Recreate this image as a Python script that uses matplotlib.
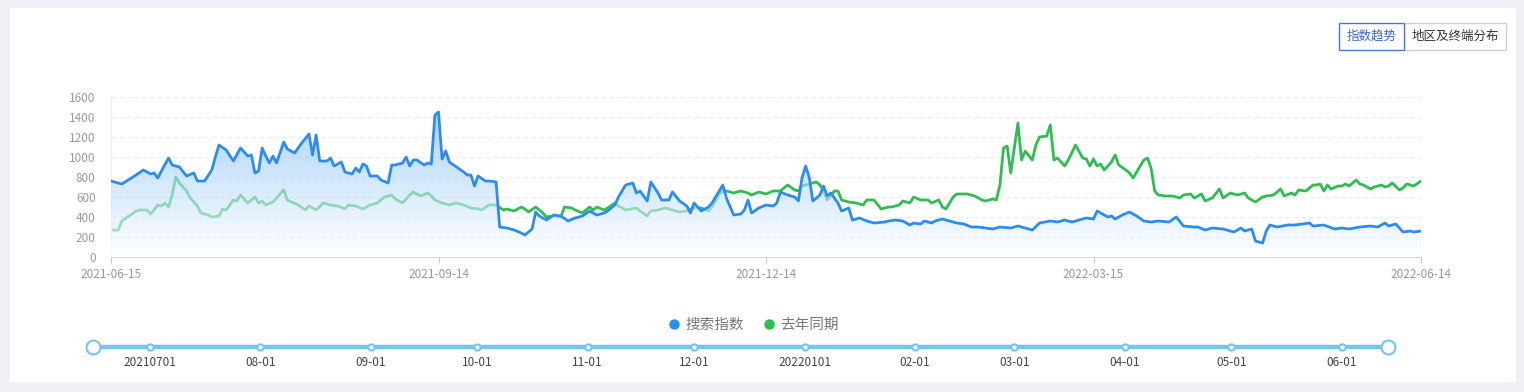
import numpy as np
import pandas as pd
import matplotlib
matplotlib.use("Agg")
import matplotlib.pyplot as plt
import matplotlib.dates as mdates
from matplotlib.patches import Rectangle, PathPatch
from matplotlib.path import Path
from matplotlib.lines import Line2D

plt.rcParams['font.family'] = ['Noto Sans CJK SC', 'DejaVu Sans']

# data (day offset from 2021-06-15, value)
start = pd.Timestamp('2021-06-15')
end = pd.Timestamp('2022-06-14')

blue_day = [0, 3, 7, 9, 11, 12, 13, 14, 16, 17, 19, 21, 23, 24, 26, 28, 29, 30, 32, 34,
            36, 38, 39, 40, 41, 42, 43, 44, 45, 46, 48, 49, 51, 53, 55, 56, 57, 58, 60, 61,
            62, 64, 65, 67, 68, 69, 70, 71, 72, 74, 75, 77, 78, 79, 81, 82, 83, 84, 85, 87,
            88, 89, 90, 91, 92, 93, 94, 96, 98, 99, 100, 101, 102, 104, 105, 107, 108, 110, 112, 114,
            115, 117, 118, 119, 121, 123, 125, 127, 129, 131, 133, 135, 137, 138, 140, 141, 143, 145, 146, 147,
            149, 150, 152, 153, 155, 156, 158, 160, 161, 162, 164, 166, 167, 169, 170, 171, 173, 175, 176, 177,
            178, 180, 182, 184, 185, 186, 188, 190, 191, 192, 193, 194, 195, 197, 198, 199, 200, 202, 203, 205,
            206, 208, 210, 212, 215, 216, 218, 220, 222, 223, 225, 226, 228, 229, 231, 233, 235, 237, 239, 241,
            243, 245, 247, 250, 252, 254, 256, 258, 261, 263, 265, 267, 269, 271, 273, 274, 275, 277, 278, 279,
            281, 283, 285, 287, 289, 291, 294, 296, 298, 301, 302, 304, 306, 309, 312, 314, 315, 317, 318, 320,
            321, 322, 324, 327, 329, 333, 334, 337, 340, 342, 344, 347, 350, 352, 354, 355, 357, 359, 361, 362,
            364]
blue_val = [760, 730, 820, 870, 830, 840, 790, 860, 990, 920, 900, 810, 840, 760, 760, 870, 1000, 1120, 1070, 960,
            1090, 1010, 1020, 840, 860, 1090, 1010, 940, 1010, 940, 1150, 1080, 1040, 1140, 1230, 1020, 1220, 960, 960, 990,
            910, 950, 850, 830, 890, 850, 930, 910, 810, 810, 770, 740, 920, 920, 940, 1000, 910, 970, 970, 920,
            940, 930, 1420, 1450, 980, 1060, 950, 900, 850, 820, 820, 710, 810, 760, 760, 750, 300, 290, 270, 240,
            220, 280, 450, 410, 370, 420, 410, 360, 390, 410, 460, 420, 440, 460, 520, 600, 720, 740, 640, 660,
            560, 750, 640, 570, 570, 650, 560, 510, 440, 540, 460, 500, 540, 660, 720, 590, 420, 430, 470, 570,
            440, 490, 520, 510, 540, 650, 620, 600, 560, 790, 910, 800, 560, 620, 710, 610, 640, 540, 460, 490,
            370, 390, 360, 340, 350, 360, 370, 360, 320, 340, 330, 360, 340, 360, 380, 360, 340, 330, 300, 300,
            290, 280, 300, 290, 310, 290, 270, 340, 360, 350, 370, 350, 370, 390, 380, 460, 440, 400, 410, 380,
            420, 450, 410, 360, 350, 360, 350, 400, 310, 300, 300, 270, 290, 280, 250, 290, 260, 280, 160, 140,
            260, 320, 300, 320, 320, 340, 310, 320, 280, 290, 280, 300, 310, 300, 340, 310, 330, 250, 260, 250,
            260]

green_day = [0, 2, 3, 5, 7, 8, 10, 11, 13, 14, 15, 16, 17, 18, 19, 21, 22, 24, 25, 27,
             28, 30, 31, 32, 34, 35, 36, 38, 40, 41, 42, 43, 45, 46, 48, 49, 52, 54, 55, 57,
             59, 61, 63, 65, 66, 68, 70, 72, 74, 76, 78, 79, 81, 83, 84, 86, 88, 89, 90, 92,
             94, 96, 98, 100, 102, 103, 105, 107, 109, 110, 112, 114, 115, 116, 118, 120, 121, 123, 125, 126,
             128, 129, 131, 133, 134, 135, 137, 138, 140, 141, 143, 146, 147, 149, 150, 152, 154, 156, 158, 160,
             162, 164, 166, 167, 169, 170, 171, 173, 175, 177, 178, 180, 182, 184, 186, 188, 190, 191, 192, 194,
             196, 197, 198, 199, 201, 202, 203, 205, 207, 209, 210, 212, 214, 216, 217, 219, 220, 222, 223, 225,
             227, 228, 230, 231, 232, 234, 235, 238, 240, 242, 243, 245, 246, 247, 248, 249, 250, 251, 252, 253,
             254, 256, 257, 258, 260, 261, 262, 263, 265, 266, 268, 270, 271, 272, 273, 274, 275, 276, 278, 279,
             280, 282, 283, 284, 285, 287, 288, 289, 290, 291, 293, 295, 297, 298, 300, 301, 303, 304, 306, 308,
             309, 311, 313, 315, 316, 318, 320, 321, 323, 325, 326, 328, 329, 330, 332, 334, 335, 336, 337, 338,
             339, 341, 342, 343, 344, 346, 347, 348, 350, 351, 353, 354, 355, 356, 358, 359, 360, 362, 364]
green_val = [270, 270, 360, 410, 460, 470, 470, 430, 520, 510, 540, 500, 620, 800, 740, 660, 590, 510, 440, 420,
             400, 410, 480, 470, 570, 560, 620, 540, 600, 540, 560, 520, 550, 590, 670, 570, 520, 470, 510, 470,
             540, 520, 510, 480, 520, 510, 480, 520, 540, 600, 620, 580, 540, 620, 650, 610, 640, 610, 570, 540,
             520, 540, 520, 490, 480, 470, 520, 520, 470, 480, 460, 500, 480, 450, 500, 440, 400, 410, 400, 500,
             490, 470, 440, 500, 470, 500, 470, 490, 540, 510, 470, 490, 460, 410, 460, 470, 490, 470, 450, 460,
             490, 490, 460, 500, 630, 660, 660, 640, 660, 640, 620, 650, 630, 660, 660, 720, 670, 660, 710, 730,
             750, 720, 660, 570, 660, 660, 570, 550, 540, 520, 570, 570, 480, 500, 500, 520, 560, 540, 600, 570,
             570, 540, 570, 500, 480, 600, 630, 630, 610, 570, 560, 580, 570, 720, 1090, 1110, 840, 1090, 1340, 970,
             1060, 970, 1120, 1200, 1210, 1320, 970, 990, 910, 970, 1120, 990, 980, 910, 980, 910, 930, 870, 950, 1020,
             920, 870, 840, 790, 850, 970, 990, 890, 660, 620, 610, 610, 590, 620, 630, 590, 630, 560, 590, 680,
             590, 640, 620, 640, 590, 550, 600, 610, 620, 680, 610, 640, 620, 670, 660, 720, 720, 730, 660, 720,
             680, 710, 710, 730, 710, 770, 730, 720, 680, 700, 720, 700, 710, 740, 670, 690, 730, 710, 760]

series_names = ['搜索指数', '去年同期']
y_ticks = [0, 200, 400, 600, 800, 1000, 1200, 1400, 1600]
x_tick_labels = ['2021-06-15', '2021-09-14', '2021-12-14', '2022-03-15', '2022-06-14']
slider_dates = ['2021-07-01', '2021-08-01', '2021-09-01', '2021-10-01', '2021-11-01', '2021-12-01',
                '2022-01-01', '2022-02-01', '2022-03-01', '2022-04-01', '2022-05-01', '2022-06-01']
slider_labels = ['20210701', '08-01', '09-01', '10-01', '11-01', '12-01',
                 '20220101', '02-01', '03-01', '04-01', '05-01', '06-01']
tabs = ['指数趋势', '地区及终端分布']

blue = '#2d8cf0'
green = '#2fbd52'
W, H = 1524, 392

blue_dates = start + pd.to_timedelta(blue_day, unit='D')
green_dates = start + pd.to_timedelta(green_day, unit='D')

fig = plt.figure(figsize=(W / 100, H / 100), dpi=100, facecolor='#f0f1f6')
fig.patches.append(Rectangle((10 / W, 10 / H), 1506 / W, 374 / H, transform=fig.transFigure,
                             facecolor='white', edgecolor='none', zorder=-5))

ax = fig.add_axes([111 / W, (H - 257) / H, 1310 / W, 160 / H])
ax.set_facecolor('none')

# green line first, the blue area sits on top of it
ax.plot(green_dates, green_val, color=green, lw=2.0, zorder=2, solid_joinstyle='round')

# gradient area under the blue line: light blue at the top fading to white
bx = mdates.date2num(blue_dates)
verts = [(bx[0], 0)] + list(zip(bx, blue_val)) + [(bx[-1], 0)]
clip = PathPatch(Path(verts), transform=ax.transData, facecolor='none', edgecolor='none')
ax.add_patch(clip)
t = np.linspace(1, 0, 256)
top_rgb = np.array([120, 186, 245]) / 255
grad = np.zeros((256, 1, 4))
for k in range(3):
    grad[:, 0, k] = 1 - (1 - top_rgb[k]) * t
grad[:, 0, 3] = 0.62
im = ax.imshow(grad, extent=[bx[0], bx[-1], 0, max(blue_val)], aspect='auto',
               origin='upper', zorder=3, interpolation='bilinear')
im.set_clip_path(clip)

ax.plot(blue_dates, blue_val, color=blue, lw=2.0, zorder=4, solid_joinstyle='round')

ax.set_xlim(start, end)
ax.set_ylim(0, 1600)
ax.set_yticks(y_ticks)
ax.set_xticks(pd.to_datetime(x_tick_labels))
ax.set_xticklabels(x_tick_labels)
ax.tick_params(axis='y', length=0, pad=11, labelsize=8.5, labelcolor='#999999')
ax.tick_params(axis='x', length=4, color='#cccccc', pad=4, labelsize=8.5, labelcolor='#999999')
ax.grid(axis='y', color='#ebebeb', lw=0.8, linestyle=(0, (4, 3)))
ax.set_axisbelow(True)
for s in ['top', 'right']:
    ax.spines[s].set_visible(False)
ax.spines['left'].set_color('#eeeeee')
ax.spines['bottom'].set_color('#d9d9d9')

# legend
handles = [Line2D([], [], marker='o', ls='none', color=blue, markersize=6.5),
           Line2D([], [], marker='o', ls='none', color=green, markersize=6.5)]
fig.legend(handles, series_names, loc='center', bbox_to_anchor=(753 / W, 1 - 325 / H), ncol=2,
           frameon=False, fontsize=10.5, labelcolor='#777777', handletextpad=0.3,
           columnspacing=1.2, handlelength=1.0)

# time slider
sx = fig.add_axes([93 / W, (H - 357) / H, (1388 - 93) / W, 20 / H])
sx.axis('off')
sx.set_xlim(start, end)
sx.set_ylim(-1, 1)
sx.plot([start, end], [0, 0], color='#74c5f0', lw=3.2, solid_capstyle='butt', zorder=1)
sx.plot(pd.to_datetime(slider_dates), [0] * len(slider_dates), 'o', ms=4.5, mfc='white',
        mec='#74c5f0', mew=1.5, zorder=2, clip_on=False)
sx.plot([start, end], [0, 0], 'o', ms=10, mfc='white', mec='#74c5f0', mew=1.5, zorder=3,
        clip_on=False)
for d, lab in zip(pd.to_datetime(slider_dates), slider_labels):
    sx.text(d, -1.5, lab, ha='center', va='center', fontsize=8.5, color='#444444')

# tab buttons
ov = fig.add_axes([0, 0, 1, 1])
ov.set_xlim(0, W)
ov.set_ylim(H, 0)
ov.axis('off')
ov.add_patch(Rectangle((1404, 23), 102, 27, facecolor='white', edgecolor='#cfcfcf', lw=1))
ov.add_patch(Rectangle((1339, 23), 65, 27, facecolor='white', edgecolor='#4a78d4', lw=1))
ov.text(1371.5, 36.5, tabs[0], ha='center', va='center', fontsize=9, color='#3468c9')
ov.text(1455, 36.5, tabs[1], ha='center', va='center', fontsize=9, color='#333333')

fig.savefig('out.png', dpi=100, facecolor=fig.get_facecolor())
